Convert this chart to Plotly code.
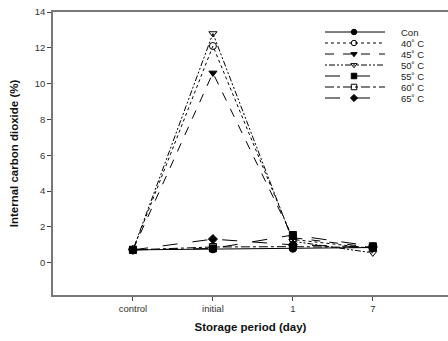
import plotly.graph_objects as go

periods = ["control", "initial", "1", "7"]

series_names = ["Con", "40\u02da C", "45\u02da C", "50\u02da C", "55\u02da C", "60\u02da C", "65\u02da C"]
con = [0.72, 0.75, 0.78, 0.85]
t40 = [0.72, 12.1, 1.30, 0.80]
t45 = [0.72, 10.6, 1.40, 0.85]
t50 = [0.72, 12.8, 1.20, 0.55]
t55 = [0.72, 0.80, 1.55, 0.92]
t60 = [0.72, 0.88, 0.90, 0.85]
t65 = [0.72, 1.32, 1.00, 0.88]
values = [con, t40, t45, t50, t55, t60, t65]

dashes = ["solid", "dot", "dash", "2px,2px,6px,2px,2px,2px", "longdash", "dashdot", "longdash"]
symbols = ["circle", "circle-open", "triangle-down", "triangle-down-open",
           "square", "square-open", "diamond"]

W, H = 448, 341
L, R, T, B = 53, 0, 12, 46

fig = go.Figure()
for name, ys, dsh, sym in zip(series_names, values, dashes, symbols):
    fig.add_trace(go.Scatter(
        x=list(range(len(periods))), y=ys, name=name, mode="lines+markers",
        line=dict(color="black", width=1, dash=dsh),
        marker=dict(symbol=sym, size=7, color="black",
                    line=dict(color="black", width=1)),
        showlegend=False,
    ))

# Legend key drawn on an overlay axis measured in pixels of the plot area
leg_x0, leg_xm, leg_x1, leg_tx = 325, 354, 385, 399
leg_y0, leg_dy = 32, 11
for i, (name, dsh, sym) in enumerate(zip(series_names, dashes, symbols)):
    yy = leg_y0 + i * leg_dy
    fig.add_trace(go.Scatter(
        x=[leg_x0, leg_x1], y=[yy, yy], mode="lines", xaxis="x2", yaxis="y2",
        line=dict(color="black", width=1, dash=dsh), showlegend=False, hoverinfo="skip",
    ))
    fig.add_trace(go.Scatter(
        x=[leg_xm], y=[yy], mode="markers", xaxis="x2", yaxis="y2",
        marker=dict(symbol=sym, size=5.5, color="black", line=dict(color="black", width=1)),
        showlegend=False, hoverinfo="skip",
    ))
    fig.add_annotation(x=leg_tx, y=yy, xref="x2", yref="y2", text=name,
                       showarrow=False, xanchor="left", yanchor="middle",
                       font=dict(size=9.5, color="#222"))

fig.update_layout(
    width=W, height=H,
    margin=dict(l=L, r=R, t=T, b=B),
    paper_bgcolor="white", plot_bgcolor="white",
    font=dict(family="Liberation Sans, Arial, sans-serif", size=9.5, color="#333"),
    showlegend=False,
    xaxis=dict(
        range=[-1, 3.94], tickmode="array", tickvals=list(range(len(periods))),
        ticktext=periods, ticks="outside", ticklen=4, tickcolor="#444",
        showline=True, linecolor="#777", linewidth=1.5, mirror=True,
        showgrid=False, zeroline=False,
        title=dict(text="<b>Storage period (day)</b>", font=dict(size=11.5, color="#111"), standoff=10),
    ),
    yaxis=dict(
        range=[-1.8, 14], tickvals=list(range(0, 15, 2)), ticks="outside",
        ticklen=4, tickcolor="#444",
        showline=True, linecolor="#777", linewidth=1.5, mirror=False,
        showgrid=False, zeroline=False,
        title=dict(text="<b>Internal carbon dioxide (%)</b>", font=dict(size=11.5, color="#111"), standoff=14),
    ),
    xaxis2=dict(overlaying="x", range=[L, W - R], visible=False, fixedrange=True),
    yaxis2=dict(overlaying="y", range=[H - B, T], visible=False, fixedrange=True),
)

fig.write_html("out.html")
